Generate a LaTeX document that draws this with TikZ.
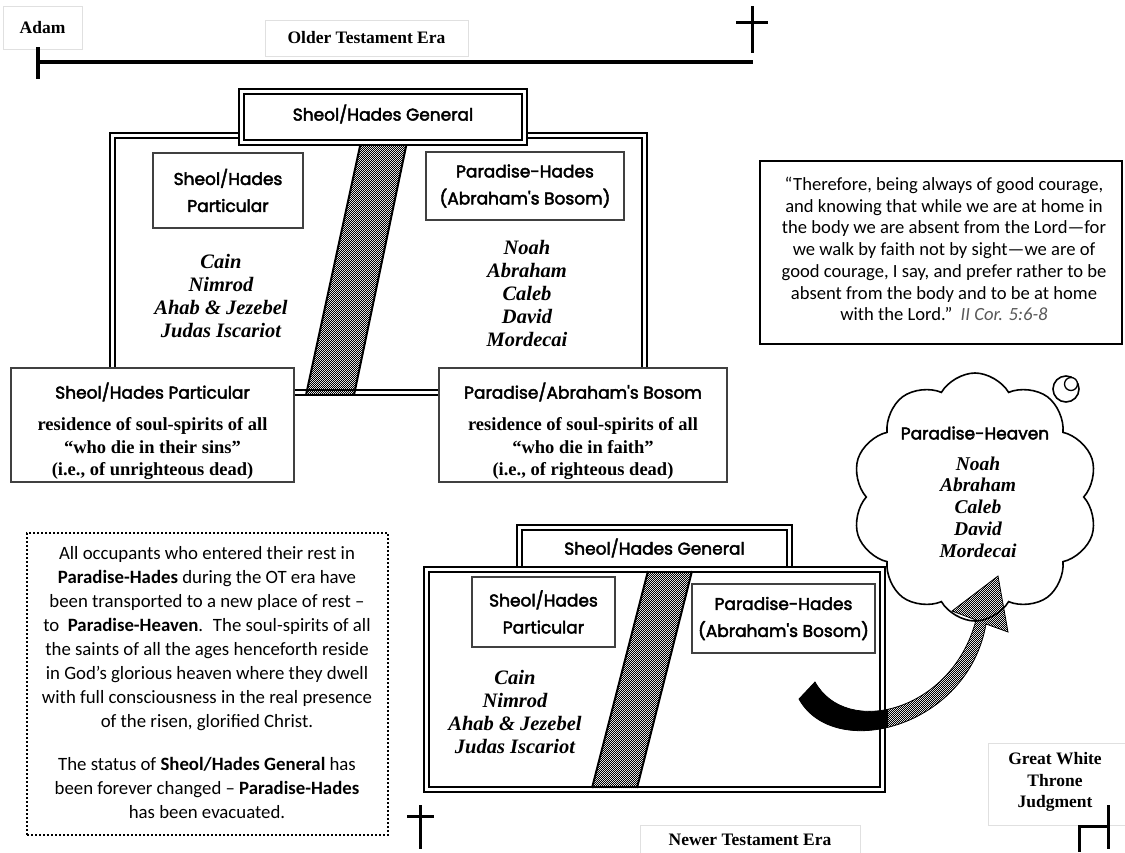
\documentclass[tikz,border=0pt]{standalone}
\usepackage{fontspec}
\setmainfont{Liberation Serif}
\newfontfamily\calib{Carlito}
\newfontfamily\comic{Poppins}
\usetikzlibrary{shapes.symbols,patterns.meta}
\newcommand\fakebf[2]{\special{pdf:literal direct #1 w 2 Tr}#2\special{pdf:literal direct 0 Tr}}
\newcommand\hb[1]{\fakebf{0.45}{#1}}
\tikzdeclarepattern{
  name=finecheck,
  type=uncolored,
  bounding box={(0pt,0pt) and (2.4pt,2.4pt)},
  tile size={(2.4pt,2.4pt)},
  code={
    \pgfpathrectangle{\pgfpointorigin}{\pgfpoint{1.2pt}{1.2pt}}
    \pgfpathrectangle{\pgfpoint{1.2pt}{1.2pt}}{\pgfpoint{1.2pt}{1.2pt}}
    \pgfusepath{fill}
  }
}
\tikzset{
  every node/.style={inner sep=0pt, outer sep=0pt},
  faintbox/.style={draw=black!12, line width=0.8pt},
  serifb/.style={font=\bfseries\fontsize{17.5}{21.5}\selectfont, align=center},
  bodyb/.style={font=\bfseries\fontsize{18.5}{22.5}\selectfont, align=center},
  hdr/.style={font=\comic\fontsize{17}{27}\selectfont, align=center},
  nm/.style={font=\bfseries\itshape\fontsize{20.5}{23}\selectfont, align=center},
  thinbox/.style={draw=black!75, line width=1.2pt, fill=white},
  heavybox/.style={draw=black, line width=2.8pt},
  innerline/.style={draw=black, line width=1.1pt},
  chasmfill/.style={pattern=finecheck, pattern color=black},
  chasmedge/.style={line width=2pt},
  calibtext/.style={font=\calib\fontsize{18.6}{21.7}\selectfont, align=center},
}
\begin{document}
\begin{tikzpicture}[x=1pt,y=-1pt]
\useasboundingbox (0,0) rectangle (1125,852);
\fill[white] (0,0) rectangle (1125,852);

% ---------- top timeline
\node[faintbox, serifb, minimum width=79pt, minimum height=43pt] (adam) at (42.5,28) {Adam};
\node[faintbox, serifb, minimum width=203pt, minimum height=36pt] (older) at (366.5,38) {Older Testament Era};
\coordinate (tlA) at (38,62); \coordinate (tlB) at (753,62);
\draw[line width=4pt] (tlA) -- (tlB);
\coordinate (tkT) at (38,47); \coordinate (tkB) at (38,79);
\draw[line width=3.5pt] (tkT) -- (tkB);
\coordinate (c1T) at (752,6); \coordinate (c1B) at (752,53);
\coordinate (c1L) at (736,22); \coordinate (c1R) at (768,22);
\draw[line width=3pt] (c1T) -- (c1B) (c1L) -- (c1R);

% ---------- top diagram
\node[heavybox, minimum width=537pt, minimum height=262pt] (big1) at (378.5,264) {};
\draw[innerline] ([shift={(5,5)}]big1.north west) rectangle ([shift={(-5,-5)}]big1.south east);
\coordinate (k1a) at (362,137); \coordinate (k1b) at (408,137);
\coordinate (k1c) at (354,395); \coordinate (k1d) at (306,395);
\fill[chasmfill] (k1a) -- (k1b) -- (k1c) -- (k1d) -- cycle;
\draw[chasmedge] (k1a) -- (k1d) (k1b) -- (k1c);
\node[heavybox, fill=white, minimum width=288pt, minimum height=56pt] (gen1) at (383,117) {};
\draw[innerline] ([shift={(5,5)}]gen1.north west) rectangle ([shift={(-5,-5)}]gen1.south east);
\node[hdr] (gen1t) at (383,114) {\hb{Sheol/Hades General}};
\node[thinbox, hdr, minimum width=150pt, minimum height=75pt] (sp1) at (228,190.5) {\hb{Sheol/Hades\\Particular}};
\node[thinbox, hdr, minimum width=198pt, minimum height=68pt] (ph1) at (525,186) {\hb{Paradise-Hades\\(Abraham's Bosom)}};
\node[nm] (names1L) at (221,296.5) {Cain\\Nimrod\\Ahab \& Jezebel\\Judas Iscariot};
\node[nm] (names1R) at (527,293) {Noah\\Abraham\\Caleb\\David\\Mordecai};

\node[thinbox, minimum width=283pt, minimum height=114pt] (bl) at (152.5,425) {};
\node[hdr] (blh) at (152.5,392) {\hb{Sheol/Hades Particular}};
\node[bodyb] (blt) at (152.5,449) {residence of soul-spirits of all\\“who die in their sins”\\(i.e., of unrighteous dead)};
\node[thinbox, minimum width=288pt, minimum height=114pt] (br) at (583,425) {};
\node[hdr] (brh) at (583,392) {\hb{Paradise/Abraham's Bosom}};
\node[bodyb] (brt) at (583,449) {residence of soul-spirits of all\\“who die in faith”\\(i.e., of righteous dead)};

% ---------- quote
\node[draw, line width=2.4pt, fill=white, minimum width=362pt, minimum height=183pt] (quote) at (941,252.5) {};
\node[calibtext] (quotet) at (944,249) {“Therefore, being always of good courage,\\and knowing that while we are at home in\\the body we are absent from the Lord—for\\we walk by faith not by sight—we are of\\good courage, I say, and prefer rather to be\\absent from the body and to be at home\\with the Lord.”\ \ {\itshape\color{black!65}II Cor. 5:6-8}};

% ---------- note
\node[draw, line width=1.8pt, dash pattern=on 1.8pt off 2.2pt, minimum width=361pt, minimum height=302pt] (note) at (207.5,684) {};
\node[font=\calib\fontsize{18.8}{24}\selectfont, align=center] (notet) at (207,683) {All occupants who entered their rest in\\\textbf{Paradise-Hades} during the OT era have\\been transported to a new place of rest –\\to \ \textbf{Paradise-Heaven}. \ The soul-spirits of all\\the saints of all the ages henceforth reside\\in God’s glorious heaven where they dwell\\with full consciousness in the real presence\\of the risen, glorified Christ.\\[19pt]The status of \textbf{Sheol/Hades General} has\\been forever changed – \textbf{Paradise-Hades}\\has been evacuated.};

% ---------- bottom diagram
\node[heavybox, fill=white, minimum width=275pt, minimum height=42pt] (gen2) at (654.5,546) {};
\draw[innerline] ([shift={(5,0)}]gen2.south west) |- ([shift={(-5,5)}]gen2.north east) -- ([shift={(-5,0)}]gen2.south east);
\node[hdr] (gen2t) at (654.5,548) {\hb{Sheol/Hades General}};
\node[heavybox, minimum width=461pt, minimum height=225pt] (big2) at (654.5,679.5) {};
\draw[innerline] ([shift={(5,5)}]big2.north west) rectangle ([shift={(-5,-5)}]big2.south east);
\coordinate (k2a) at (648,571); \coordinate (k2b) at (692,571);
\coordinate (k2c) at (637,788); \coordinate (k2d) at (592,788);
\fill[chasmfill] (k2a) -- (k2b) -- (k2c) -- (k2d) -- cycle;
\draw[chasmedge] (k2a) -- (k2d) (k2b) -- (k2c);
\node[thinbox, hdr, minimum width=143pt, minimum height=70pt] (sp2) at (543.5,612) {\hb{Sheol/Hades\\Particular}};
\node[thinbox, hdr, minimum width=183pt, minimum height=69pt] (ph2) at (783.5,618.5) {\hb{Paradise-Hades\\(Abraham's Bosom)}};
\node[nm] (names2) at (515,711.5) {Cain\\Nimrod\\Ahab \& Jezebel\\Judas Iscariot};

\coordinate (c2T) at (420,805); \coordinate (c2B) at (420,849);
\coordinate (c2L) at (407,816); \coordinate (c2R) at (434,816);
\draw[line width=3pt] (c2T) -- (c2B) (c2L) -- (c2R);

\node[faintbox, minimum width=220pt, minimum height=40pt] (newerbox) at (750,845) {};
\node[serifb] (newer) at (750,840) {Newer Testament Era};
\node[faintbox, minimum width=140pt, minimum height=82pt] (gwtjbox) at (1058,784) {};
\node[serifb] (gwtj) at (1055,782) {Great White\\Throne\\Judgment};
\coordinate (j1) at (1108,805); \coordinate (j2) at (1108,826);
\coordinate (j3) at (1079,826); \coordinate (j4) at (1079,852);
\coordinate (j5) at (1108,849);
\draw[line width=3pt] (j1) -- (j5) (j2) -- (j3) -- (j4);

% ---------- cloud
\node[cloud, draw, fill=white, line width=1.6pt, cloud puffs=10, cloud puff arc=120, cloud ignores aspect, minimum width=246pt, minimum height=248pt] (cloud) at (975,497) {};
\node[circle, draw, fill=white, line width=1.6pt, minimum size=26pt] (bub) at (1066,389) {};
\node[circle, draw, fill=white, line width=1.3pt, minimum size=13pt] (bub2) at (1071,384) {};
\node[hdr] (pht) at (975,433) {\hb{Paradise-Heaven}};
\node[nm, font=\bfseries\itshape\fontsize{19.5}{21.7}\selectfont] (cnames) at (978,507) {Noah\\Abraham\\Caleb\\David\\Mordecai};

% ---------- curved arrow
\coordinate (aT1) at (815,682);
\coordinate (aT2) at (799,699);
\coordinate (aSR) at (986,624);
\coordinate (aHR) at (1008,632);
\coordinate (aTip) at (998,576);
\coordinate (aHL) at (952,611);
\coordinate (aSL) at (976,620);
\def\arrowpath{(aT2) .. controls (834,762) and (968,728) .. (aSR) -- (aHR) -- (aTip) -- (aHL) -- (aSL) .. controls (952,712) and (846,738) .. (aT1) -- cycle}
\fill[chasmfill] \arrowpath;
\begin{scope}
\clip (780,650) rectangle (888,770);
\fill[black] \arrowpath;
\end{scope}
\draw[line width=0.8pt] \arrowpath;
\end{tikzpicture}
\end{document}
